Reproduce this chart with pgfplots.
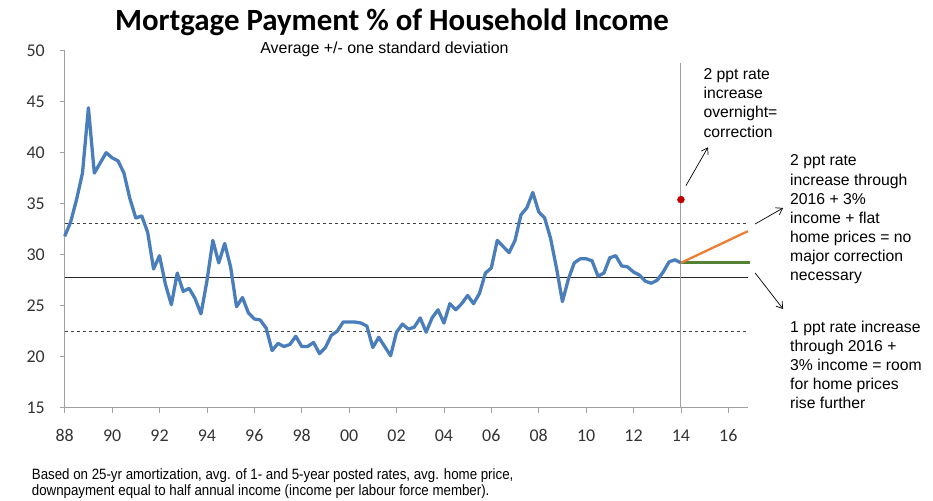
\documentclass[border=0pt]{standalone}
\usepackage{pgfplots}
\usepackage{pgfplotstable}
\pgfplotsset{compat=1.18}
\usepackage{fontspec}
\setmainfont{Liberation Sans}
\newfontfamily\calibri{Carlito}
\newfontfamily\narrowfont[FakeStretch=0.89]{Liberation Sans}
\usetikzlibrary{arrows.meta}

\definecolor{lineblue}{RGB}{74,126,187}
\definecolor{fcorange}{RGB}{237,125,49}
\definecolor{fcgreen}{RGB}{84,130,53}
\definecolor{dotred}{RGB}{192,0,0}
\definecolor{axgray}{RGB}{160,160,160}

% quarterly mortgage payment as % of household income
\pgfplotstableread{
year pct
1988.00 31.8
1988.25 33.2
1988.50 35.4
1988.75 38.0
1989.00 44.4
1989.25 38.0
1989.50 39.0
1989.75 40.0
1990.00 39.5
1990.25 39.2
1990.50 38.0
1990.75 35.5
1991.00 33.6
1991.25 33.8
1991.50 32.2
1991.75 28.6
1992.00 29.9
1992.25 27.1
1992.50 25.1
1992.75 28.2
1993.00 26.4
1993.25 26.7
1993.50 25.7
1993.75 24.2
1994.00 27.4
1994.25 31.4
1994.50 29.2
1994.75 31.1
1995.00 28.8
1995.25 24.9
1995.50 25.8
1995.75 24.3
1996.00 23.7
1996.25 23.6
1996.50 22.8
1996.75 20.6
1997.00 21.3
1997.25 21.0
1997.50 21.2
1997.75 22.0
1998.00 21.0
1998.25 21.0
1998.50 21.4
1998.75 20.3
1999.00 20.9
1999.25 22.1
1999.50 22.5
1999.75 23.4
2000.00 23.4
2000.25 23.4
2000.50 23.3
2000.75 23.0
2001.00 20.9
2001.25 21.9
2001.50 21.0
2001.75 20.1
2002.00 22.4
2002.25 23.2
2002.50 22.7
2002.75 22.9
2003.00 23.8
2003.25 22.4
2003.50 23.8
2003.75 24.6
2004.00 23.3
2004.25 25.2
2004.50 24.6
2004.75 25.2
2005.00 26.0
2005.25 25.2
2005.50 26.2
2005.75 28.2
2006.00 28.7
2006.25 31.4
2006.50 30.8
2006.75 30.2
2007.00 31.4
2007.25 33.9
2007.50 34.6
2007.75 36.1
2008.00 34.2
2008.25 33.6
2008.50 31.6
2008.75 28.7
2009.00 25.4
2009.25 27.6
2009.50 29.2
2009.75 29.6
2010.00 29.6
2010.25 29.4
2010.50 27.9
2010.75 28.2
2011.00 29.7
2011.25 29.9
2011.50 28.9
2011.75 28.8
2012.00 28.3
2012.25 28.0
2012.50 27.4
2012.75 27.2
2013.00 27.5
2013.25 28.3
2013.50 29.3
2013.75 29.5
2014.00 29.2
}\mortgage

\begin{document}
\begin{tikzpicture}[x=1bp,y=1bp]
\useasboundingbox (-64.7,-93.3) rectangle (868.3,407.7);

\begin{axis}[
    at={(0,0)}, anchor=south west,
    scale only axis, width=683.3bp, height=357bp,
    xmin=1988, xmax=2016.83, ymin=15, ymax=50,
    axis x line*=bottom, axis y line*=left,
    axis line style={-, axgray, line width=0.8bp},
    xtick={1988,1990,...,2016},
    xticklabels={88,90,92,94,96,98,00,02,04,06,08,10,12,14,16},
    ytick={15,20,...,50},
    /pgf/number format/assume math mode=true,
    tick align=outside, major tick length=5bp,
    tick style={axgray, line width=0.8bp},
    ticklabel style={font=\calibri\fontsize{18}{18}\selectfont, text=black!80, inner sep=0pt},
    xticklabel style={anchor=center, yshift=-23bp},
    yticklabel style={anchor=east, xshift=-14.7bp},
    clip=false,
  ]
  % average +/- one standard deviation
  \addplot[black!75, line width=1bp, dash pattern=on 3bp off 3bp] coordinates {(1988,33.1) (2016.83,33.1)};
  \addplot[black!75, line width=1bp, dash pattern=on 3bp off 3bp] coordinates {(1988,22.5) (2016.83,22.5)};
  \addplot[black!85, line width=1bp] coordinates {(1988,27.8) (2016.83,27.8)};

  % today marker
  \addplot[axgray, line width=1bp] coordinates {(2014,15) (2014,48.8)};

  % history
  \addplot[lineblue, line width=3.3bp, line join=round] table[x=year, y=pct] {\mortgage};

  % scenarios
  \addplot[fcgreen, line width=2.8bp] coordinates {(2014,29.2) (2016.92,29.2)};
  \addplot[fcorange, line width=2.3bp] coordinates {(2014,29.2) (2016.82,32.3)};
  \addplot[only marks, mark=*, mark size=3.5bp, dotred] coordinates {(2014,35.4)};

  % arrows to the notes
  \draw[-{Straight Barb[length=6bp,width=8bp]}, line width=0.7bp] (axis cs:2014.21,36.76) -- (axis cs:2015.14,40.53);
  \draw[-{Straight Barb[length=6bp,width=8bp]}, line width=0.7bp] (axis cs:2017.13,33.01) -- (axis cs:2018.31,34.58);
  \draw[-{Straight Barb[length=6bp,width=8bp]}, line width=0.7bp] (axis cs:2017.13,28.21) -- (axis cs:2018.31,24.68);
\end{axis}

% title
\node[font=\calibri\bfseries\fontsize{31}{31}\selectfont, anchor=base, inner sep=0pt] at (327.3,377.5) {Mortgage Payment \% of Household Income};
\node[font=\fontsize{16}{16}\selectfont, anchor=base, inner sep=0pt] at (319.8,354.5) {Average +/- one standard deviation};

% notes
\foreach \t [count=\i from 0] in {2 ppt rate, increase, overnight=, correction}
  \node[font=\fontsize{15.8}{15.8}\selectfont, anchor=base west, inner sep=0pt] at (638.6,328.4-19.3*\i) {\t};
\foreach \t [count=\i from 0] in {2 ppt rate, increase through, 2016 + 3\%, income + flat, home prices = no, major correction, necessary}
  \node[font=\fontsize{15.8}{15.8}\selectfont, anchor=base west, inner sep=0pt] at (725.3,241.7-19.1*\i) {\t};
\foreach \t [count=\i from 0] in {1 ppt rate increase, through 2016 +, 3\% income = room, for home prices, rise further}
  \node[font=\fontsize{15.8}{15.8}\selectfont, anchor=base west, inner sep=0pt] at (725.3,75-19*\i) {\t};

% source note
\node[font=\narrowfont\fontsize{15}{15}\selectfont, anchor=base west, inner sep=0pt] at (-33,-72.3) {Based on 25-yr amortization, avg. of 1- and 5-year posted rates, avg. home price,};
\node[font=\narrowfont\fontsize{15}{15}\selectfont, anchor=base west, inner sep=0pt] at (-33,-88.3) {downpayment equal to half annual income (income per labour force member).};
\end{tikzpicture}
\end{document}
